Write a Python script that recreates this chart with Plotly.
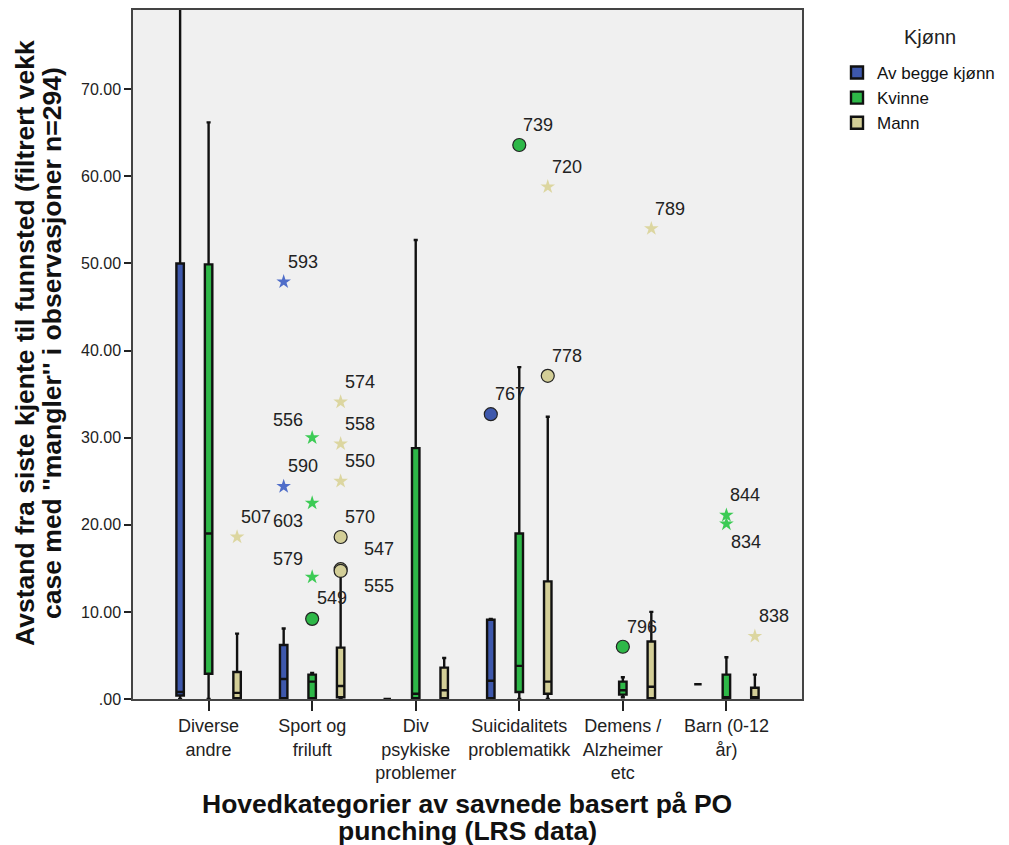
import plotly.graph_objects as go

categories = ["Diverse<br>andre", "Sport og<br>friluft", "Div<br>psykiske<br>problemer",
              "Suicidalitets<br>problematikk", "Demens /<br>Alzheimer<br>etc", "Barn (0-12<br>år)"]
genders = ["Av begge kjønn", "Kvinne", "Mann"]

# Box statistics per gender (category index, q1, median, q3, lower whisker, upper whisker)
blue_cat = [0, 1, 2, 3, 5]
blue_q1 = [0.4, 0.1, 0.0, 0.1, 1.7]
blue_med = [0.8, 2.3, 0.0, 2.1, 1.7]
blue_q3 = [50.0, 6.2, 0.0, 9.1, 1.7]
blue_lo = [0.0, 0.0, 0.0, 0.0, 1.7]
blue_hi = [90.0, 8.1, 0.0, 9.2, 1.7]

green_cat = [0, 1, 2, 3, 4, 5]
green_q1 = [2.9, 0.1, 0.1, 0.8, 0.5, 0.1]
green_med = [19.0, 2.0, 0.6, 3.8, 1.0, 0.1]
green_q3 = [49.9, 2.8, 28.8, 19.0, 2.0, 2.8]
green_lo = [0.0, 0.0, 0.0, 0.0, 0.2, 0.0]
green_hi = [66.2, 3.0, 52.7, 38.1, 2.5, 4.8]

tan_cat = [0, 1, 2, 3, 4, 5]
tan_q1 = [0.1, 0.2, 0.1, 0.6, 0.1, 0.1]
tan_med = [0.7, 1.5, 1.0, 2.0, 1.4, 0.2]
tan_q3 = [3.1, 5.9, 3.6, 13.5, 6.6, 1.3]
tan_lo = [0.0, 0.0, 0.0, 0.0, 0.0, 0.0]
tan_hi = [7.5, 14.5, 4.7, 32.4, 10.0, 2.8]

# Outliers (circle) and extremes (star)
blue_out_cat = [1, 1, 3]
blue_out_val = [47.9, 24.4, 32.7]
blue_out_id = ["593", "590", "767"]
blue_out_kind = ["star", "star", "circle"]

green_out_cat = [1, 1, 1, 1, 3, 4, 5, 5]
green_out_val = [9.2, 14.0, 22.5, 30.0, 63.6, 6.0, 21.1, 20.1]
green_out_id = ["549", "579", "603", "556", "739", "796", "844", "834"]
green_out_kind = ["circle", "star", "star", "star", "circle", "circle", "star", "star"]

tan_out_cat = [0, 1, 1, 1, 1, 1, 1, 3, 3, 4, 5]
tan_out_val = [18.6, 14.9, 14.7, 18.6, 25.0, 29.3, 34.1, 37.1, 58.8, 54.0, 7.2]
tan_out_id = ["507", "547", "555", "570", "550", "558", "574", "778", "720", "789", "838"]
tan_out_kind = ["star", "circle", "circle", "circle", "star", "star", "star", "circle", "star", "star", "star"]

y_ticks = [0, 10, 20, 30, 40, 50, 60, 70]
y_tick_text = [".00", "10.00", "20.00", "30.00", "40.00", "50.00", "60.00", "70.00"]

y_title_lines = ["Avstand fra siste kjente til funnsted (filtrert vekk",
                 "case med ''mangler'' i observasjoner n=294)"]
x_title_lines = ["Hovedkategorier av savnede basert på PO", "punching (LRS data)"]
legend_title = "Kjønn"

# ---- styling ----
FONT = "Liberation Sans, Arial, sans-serif"
fill_colors = ["#3E58AC", "#2EB848", "#D3CE97"]
star_colors = ["#4F6DC9", "#3CCB55", "#DCD6A0"]
offsets = [-0.275, 0.0, 0.275]
label_shift = {"556": (-24, 18), "603": (-24, -18), "579": (-24, 18), "547": (38, 20),
               "555": (38, -15), "834": (20, -18), "549": (20, 21)}

PL, PT, PW, PH = 125, 2, 669, 689  # plot area in figure px
def px(xp):  # page x -> paper
    return (xp - 8 - PL) / PW
def py(yp):  # page y -> paper
    return (PT + PH - (yp - 8)) / PH

fig = go.Figure()
series = [
    (blue_cat, blue_q1, blue_med, blue_q3, blue_lo, blue_hi),
    (green_cat, green_q1, green_med, green_q3, green_lo, green_hi),
    (tan_cat, tan_q1, tan_med, tan_q3, tan_lo, tan_hi),
]
for i, (cat, q1, med, q3, lo, hi) in enumerate(series):
    fig.add_trace(go.Box(
        x=[c + offsets[i] for c in cat], q1=q1, median=med, q3=q3,
        lowerfence=lo, upperfence=hi, name=genders[i],
        fillcolor=fill_colors[i], line=dict(color="#111111", width=2.4),
        width=0.072, whiskerwidth=0.55, boxpoints=False, showlegend=True,
    ))

outs = [
    (blue_out_cat, blue_out_val, blue_out_id, blue_out_kind),
    (green_out_cat, green_out_val, green_out_id, green_out_kind),
    (tan_out_cat, tan_out_val, tan_out_id, tan_out_kind),
]
annotations = []
for i, (cat, val, ids, kind) in enumerate(outs):
    for k in ("circle", "star"):
        xs = [c + offsets[i] for c, kk in zip(cat, kind) if kk == k]
        ys = [v for v, kk in zip(val, kind) if kk == k]
        if not xs:
            continue
        if k == "circle":
            marker = dict(symbol="circle", size=13, color=fill_colors[i],
                          line=dict(color="#222222", width=1.2))
        else:
            marker = dict(symbol="star", size=11, color=star_colors[i], line=dict(width=0))
        fig.add_trace(go.Scatter(x=xs, y=ys, mode="markers", marker=marker,
                                 showlegend=False, hoverinfo="skip"))
    for c, v, lab in zip(cat, val, ids):
        dx, dy = label_shift.get(lab, (19, 20))
        annotations.append(dict(x=c + offsets[i], y=v, xref="x", yref="y", text=lab,
                                showarrow=False, xshift=dx, yshift=dy,
                                font=dict(family=FONT, size=18, color="#222222")))

# legend title
annotations.append(dict(x=px(930), y=py(37), xref="paper", yref="paper", text=legend_title,
                        showarrow=False, xanchor="center", yanchor="middle",
                        font=dict(family=FONT, size=20, color="#222222")))
# y-axis title (two lines, tight spacing)
for xp, line in zip([25, 52], y_title_lines):
    annotations.append(dict(x=px(xp), y=py(343), xref="paper", yref="paper", text="<b>%s</b>" % line,
                            showarrow=False, textangle=-90, xanchor="center", yanchor="middle",
                            font=dict(family=FONT, size=26.5, color="#111111")))
# x-axis title
for yp, line in zip([804, 831], x_title_lines):
    annotations.append(dict(x=px(467), y=py(yp), xref="paper", yref="paper", text="<b>%s</b>" % line,
                            showarrow=False, xanchor="center", yanchor="middle",
                            font=dict(family=FONT, size=26.5, color="#111111")))

fig.update_layout(
    width=1001, height=837,
    margin=dict(l=PL, r=1001 - PL - PW, t=PT, b=837 - PT - PH, autoexpand=False),
    paper_bgcolor="white", plot_bgcolor="#F0F0F0",
    boxmode="overlay",
    font=dict(family=FONT, size=14, color="#222222"),
    legend=dict(x=px(837), y=py(55), xanchor="left", yanchor="top",
                font=dict(family=FONT, size=17, color="#111111"),
                bgcolor="rgba(0,0,0,0)", tracegroupgap=0, itemwidth=30),
    annotations=annotations,
)

fig.update_xaxes(
    range=[-0.73, 5.73], tickmode="array", tickvals=list(range(len(categories))),
    ticktext=categories, ticks="outside", ticklen=10, tickcolor="#222222", tickwidth=1.5,
    showgrid=False, zeroline=False, showline=True, linecolor="#444444", linewidth=1.5,
    mirror=True, tickfont=dict(family=FONT, size=18, color="#222222"), automargin=False,
)
fig.update_yaxes(
    range=[0, 79.1], tickmode="array", tickvals=y_ticks, ticktext=y_tick_text,
    ticks="outside", ticklen=7, tickcolor="#222222", tickwidth=1.5,
    showgrid=False, zeroline=False, showline=True, linecolor="#444444", linewidth=1.5,
    mirror=True, tickfont=dict(family=FONT, size=16, color="#222222"), automargin=False,
)

fig.write_html("out.html")
